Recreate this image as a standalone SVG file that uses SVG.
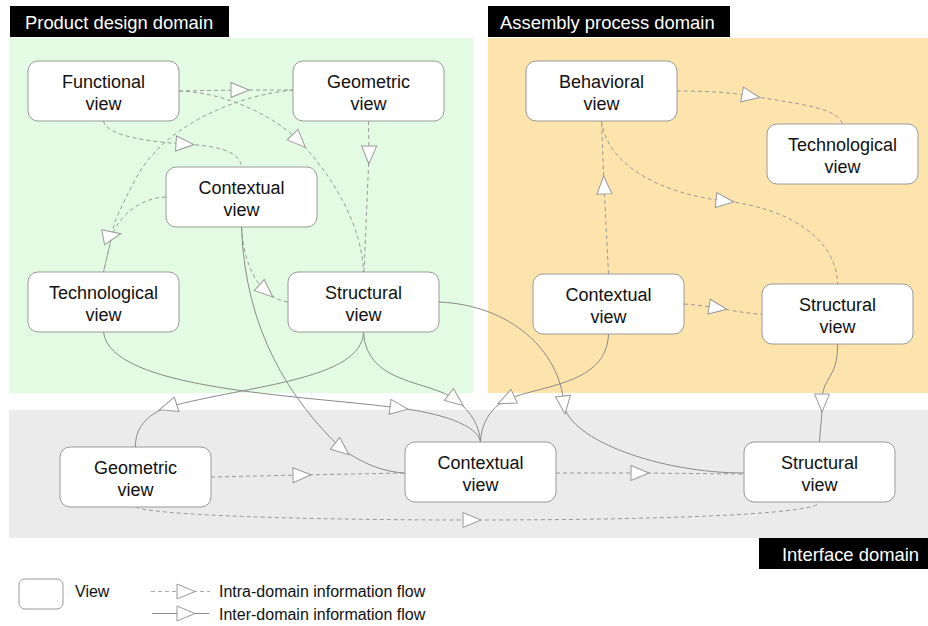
<svg xmlns="http://www.w3.org/2000/svg" width="928" height="626" viewBox="0 0 928 626">
<style>
.node rect{fill:#fff;stroke:#9a9a9a;stroke-width:1}
.node text{font-family:"Liberation Sans",Arial,sans-serif;font-size:18px;fill:#111;text-anchor:middle}
.lbl{font-family:"Liberation Sans",Arial,sans-serif;font-size:18.4px;fill:#fff}
.intra{fill:none;stroke:#9a9a9a;stroke-width:1;stroke-dasharray:4,3;marker-mid:url(#arr)}
.inter{fill:none;stroke:#8a8a8a;stroke-width:1;marker-mid:url(#arr)}
.leg{font-family:"Liberation Sans",Arial,sans-serif;font-size:16px;fill:#111}
</style>
<defs>
<marker id="arr" viewBox="0 0 18 15" refX="9" refY="7.5" markerWidth="18" markerHeight="15" markerUnits="userSpaceOnUse" orient="auto" style="overflow:visible">
<path d="M0,0 L18,7.5 L0,15 z" fill="#fff" stroke="#999" stroke-width="1"/>
</marker>
<marker id="arrT" viewBox="0 0 18 15" refX="9" refY="7.5" markerWidth="18" markerHeight="15" markerUnits="userSpaceOnUse" orient="-11" style="overflow:visible">
<path d="M0,0 L18,7.5 L0,15 z" fill="#fff" stroke="#999" stroke-width="1"/>
</marker>
</defs>
<rect width="928" height="626" fill="#fff"/>
<g id="domains">
<rect x="9" y="38" width="464" height="355" fill="#e3fbe3"/>
<rect x="488" y="38" width="440" height="355" fill="#fde4ad"/>
<rect x="9" y="410" width="919" height="128" fill="#ebebeb"/>
<rect x="10" y="6" width="219" height="31" fill="#000"/>
<text class="lbl" x="25" y="29">Product design domain</text>
<rect x="488" y="6" width="242" height="31" fill="#000"/>
<text class="lbl" x="500" y="29">Assembly process domain</text>
<rect x="759" y="538" width="169" height="31" fill="#000"/>
<text class="lbl" x="919" y="561" text-anchor="end">Interface domain</text>
</g>
<g id="connectors">
<path class="intra" d="M179,91 L240,90 L293,90"/>
<path class="intra" d="M179,91 C220,92 270,112 299,141 C328,170 362,222 363.5,272"/>
<path class="intra" d="M293,90 C230,96 160,130 135,180 C122,205 112,225 112,235.5 L103.5,272" style="marker-mid:none"/>
<path class="intra" d="M166,197 C140,198 120,215 112,235.5 L103.5,272" style="marker-mid:url(#arrT)"/>
<path class="intra" d="M103.5,121 C106,136 150,142 185,144 C215,146 240,150 241.5,167"/>
<path class="intra" d="M368.5,121 L369,155 L364,272"/>
<path class="intra" d="M241.5,227 C243,255 252,280 266,291 C272,297 280,301 288,302"/>
<path class="intra" d="M677,91 C700,91 730,92 751,96 C800,104 838,108 842.5,124"/>
<path class="intra" d="M608.5,274 L604,185 L601.5,121"/>
<path class="intra" d="M601.5,121 C608,170 670,195 725,201 C790,208 837,240 837.5,284"/>
<path class="intra" d="M684,304 C700,305 710,307 718,308 C735,311 750,314 762,314"/>
<path class="intra" d="M211,477 L302,475 L405,473"/>
<path class="intra" d="M556,473 L640,473 L744,474"/>
<path class="intra" d="M135.5,507 C150,515 300,520 472,520 C650,520 810,515 819.5,503"/>
<path class="inter" d="M837.5,344 C838,380 822,375 822,403 C822,420 820,430 819.5,442"/>
<path class="inter" d="M608.5,334 C607,385 540,385 506,400 C490,408 481,425 480.5,442"/>
<path class="inter" d="M363.5,332 C366,385 430,380 456,400 C472,412 480,428 480.5,442"/>
<path class="inter" d="M103.5,332 C110,390 300,395 399,408 C440,413 478,425 480.5,442"/>
<path class="inter" d="M363.5,332 C362,380 250,385 168,407 C145,415 135,430 135.5,447"/>
<path class="inter" d="M439,302 C510,305 560,350 564,405 C570,440 660,473 744,473"/>
<path class="inter" d="M241.5,227 C245,330 290,400 342,449 C365,465 385,472 405,473"/>
</g>
<g id="fn" class="node"><rect x="28" y="61" width="151" height="60" rx="10"/><text x="103.5" y="88">Functional</text><text x="103.5" y="109.5">view</text></g>
<g id="geoPD" class="node"><rect x="293" y="61" width="151" height="60" rx="10"/><text x="368.5" y="88">Geometric</text><text x="368.5" y="109.5">view</text></g>
<g id="ctxPD" class="node"><rect x="166" y="167" width="151" height="60" rx="10"/><text x="241.5" y="194">Contextual</text><text x="241.5" y="215.5">view</text></g>
<g id="techPD" class="node"><rect x="28" y="272" width="151" height="60" rx="10"/><text x="103.5" y="299">Technological</text><text x="103.5" y="320.5">view</text></g>
<g id="strPD" class="node"><rect x="288" y="272" width="151" height="60" rx="10"/><text x="363.5" y="299">Structural</text><text x="363.5" y="320.5">view</text></g>
<g id="beh" class="node"><rect x="526" y="61" width="151" height="60" rx="10"/><text x="601.5" y="88">Behavioral</text><text x="601.5" y="109.5">view</text></g>
<g id="techAP" class="node"><rect x="767" y="124" width="151" height="60" rx="10"/><text x="842.5" y="151">Technological</text><text x="842.5" y="172.5">view</text></g>
<g id="ctxAP" class="node"><rect x="533" y="274" width="151" height="60" rx="10"/><text x="608.5" y="301">Contextual</text><text x="608.5" y="322.5">view</text></g>
<g id="strAP" class="node"><rect x="762" y="284" width="151" height="60" rx="10"/><text x="837.5" y="311">Structural</text><text x="837.5" y="332.5">view</text></g>
<g id="geoI" class="node"><rect x="60" y="447" width="151" height="60" rx="10"/><text x="135.5" y="474">Geometric</text><text x="135.5" y="495.5">view</text></g>
<g id="ctxI" class="node"><rect x="405" y="442" width="151" height="60" rx="10"/><text x="480.5" y="469">Contextual</text><text x="480.5" y="490.5">view</text></g>
<g id="strI" class="node"><rect x="744" y="442" width="151" height="60" rx="10"/><text x="819.5" y="469">Structural</text><text x="819.5" y="490.5">view</text></g>
<g id="legend">
<rect x="19" y="579" width="44" height="30" rx="6" fill="#fff" stroke="#9a9a9a"/>
<text class="leg" x="75" y="597">View</text>
<path d="M151,591.5 L210,591.5" fill="none" stroke="#aaa" stroke-dasharray="4,3"/>
<path d="M177,584 L195,591.5 L177,599 z" fill="#fff" stroke="#999"/>
<text class="leg" x="219" y="597">Intra-domain information flow</text>
<path d="M152,613.5 L209,613.5" fill="none" stroke="#8a8a8a"/>
<path d="M177,606 L195,613.5 L177,621 z" fill="#fff" stroke="#999"/>
<text class="leg" x="219" y="620">Inter-domain information flow</text>
</g>
</svg>
